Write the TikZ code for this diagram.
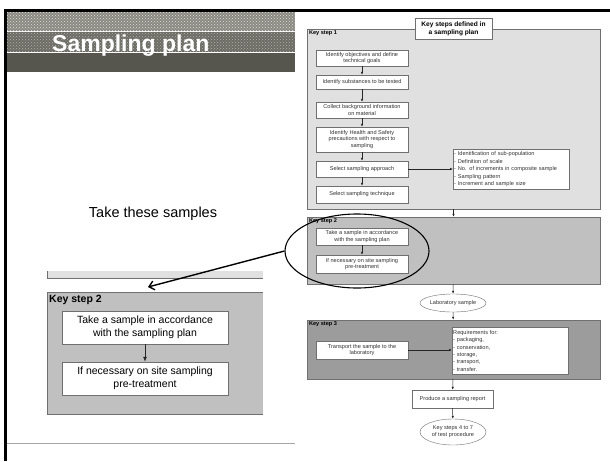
\documentclass[tikz,border=0pt]{standalone}
\usepackage{fontspec}
\setmainfont{Liberation Sans}
\usetikzlibrary{shapes.geometric,arrows.meta,patterns}
\definecolor{bandtop}{HTML}{8A8A82}
\definecolor{bandmid}{HTML}{6C6C64}
\definecolor{bandlow}{HTML}{56564E}
\definecolor{ksone}{HTML}{E0E0E0}
\definecolor{kstwo}{HTML}{C0C0C0}
\definecolor{ksthree}{HTML}{9C9C9C}
\definecolor{edgegray}{HTML}{707070}
\begin{document}
\begin{tikzpicture}[x=1pt,y=-1pt,
  stepbox/.style={draw=edgegray,fill=white,align=center,inner sep=0.5pt,
    font=\fontsize{5.6}{6.8}\selectfont,text=black!80,minimum width=92pt},
  listbox/.style={draw=edgegray,fill=white,align=left,inner sep=1pt,anchor=north west,
    font=\fontsize{5.6}{7.4}\selectfont,text=black!80,text width=114pt},
  panel/.style={draw=edgegray,minimum width=293pt,inner sep=0pt},
  keylab/.style={anchor=north west,inner sep=2pt,font=\fontsize{5.6}{6}\selectfont\bfseries},
  oval/.style={ellipse,draw=edgegray,fill=white,inner sep=0pt,align=center,
    font=\fontsize{5.6}{6.8}\selectfont,text=black!80},
  link/.style={-{Latex[length=3pt,width=2.4pt]},black!85,line width=0.5pt},
  bigbox/.style={draw=edgegray,fill=white,align=center,inner sep=1pt,
    font=\fontsize{10.5}{12.5}\selectfont,minimum width=166pt,minimum height=33pt}]
\useasboundingbox (0,0) rectangle (610,461);
\fill[white] (0,0) rectangle (610,461);
\fill[bandtop] (7,12) rectangle (295,30.5);
\fill[bandmid] (7,31.8) rectangle (295,51.5);
\fill[bandlow] (7,52.8) rectangle (295,72);
\fill[pattern=crosshatch dots,pattern color=white!75!gray] (7,12) rectangle (295,30.5);
\fill[pattern=crosshatch dots,pattern color=gray!60] (7,31.8) rectangle (295,51.5);
\node[anchor=base west,inner sep=0pt,text=white,font=\fontsize{23}{25}\selectfont\bfseries] (title) at (52,51) {Sampling plan};
\draw[line width=2.5pt] (5.5,461) -- (5.5,10.5) -- (610,10.5);
\draw[gray!70,line width=0.8pt] (7,443) -- (295,443);
\node[font=\fontsize{14.5}{16}\selectfont] (take) at (153,214) {Take these samples};
\node[panel,fill=ksone,minimum height=180pt] (ks1) at (453.5,119) {};
\node[draw=edgegray,fill=white,align=center,inner sep=1pt,minimum width=77pt,minimum height=21pt,
  font=\fontsize{6.6}{8}\selectfont\bfseries] (head) at (453.5,28.5) {Key steps defined in\\a sampling plan};
\node[keylab] (ks1lab) at (ks1.north west) {Key step 1};
\node[stepbox,minimum height=16pt] (objectives) at (362,58) {Identify objectives and define\\technical goals};
\node[stepbox,minimum height=14pt] (substances) at (362,82) {Identify substances to be tested};
\node[stepbox,minimum height=16pt] (background) at (362,110) {Collect background information\\on material};
\node[stepbox,minimum height=25pt] (safety) at (362,139.5) {Identify Health and Safety\\precautions with respect to\\sampling};
\node[stepbox,minimum height=16pt] (approach) at (362,169) {Select sampling approach};
\node[stepbox,minimum height=17pt] (technique) at (362,194.5) {Select sampling technique};
\node[listbox,minimum height=40pt] (approachlist) at (453,149) {- Identification of sub-population\\- Definition of scale\\- No. of increments in composite sample\\- Sampling pattern\\- Increment and sample size};
\draw[link] (objectives) -- (substances);
\draw[link] (substances) -- (background);
\draw[link] (background) -- (safety);
\draw[link] (safety) -- (approach);
\draw[link] (approach) -- (technique);
\draw[link] (approach.east) -- (approach.east -| approachlist.west);
\node[panel,fill=kstwo,minimum height=67pt] (ks2) at (453.5,250.5) {};
\node[keylab] (ks2lab) at (ks2.north west) {Key step 2};
\node[stepbox,minimum height=17pt] (takesample) at (362,236.5) {Take a sample in accordance\\with the sampling plan};
\node[stepbox,minimum height=18pt] (pretreat) at (362,264) {If necessary on site sampling\\pre-treatment};
\draw[link] (takesample) -- (pretreat);
\draw[link] (ks1) -- (ks2);
\node[oval,minimum width=66pt,minimum height=18pt] (labsample) at (453,303) {Laboratory sample};
\draw[link] (ks2) -- (labsample);
\node[panel,fill=ksthree,minimum height=59pt] (ks3) at (453.5,349.5) {};
\node[keylab] (ks3lab) at (ks3.north west) {Key step 3};
\draw[link] (labsample) -- (ks3);
\node[stepbox,minimum height=18pt] (transport) at (362,350) {Transport the sample to the\\laboratory};
\node[listbox,minimum height=47pt] (require) at (452,327) {Requirements for:\\- packaging,\\- conservation,\\- storage,\\- transport,\\- transfer.};
\draw[link] (transport.east) -- (transport.east -| require.west);
\node[stepbox,minimum width=81pt,minimum height=18pt] (report) at (452.5,399) {Produce a sampling report};
\draw[link] (ks3) -- (report);
\node[oval,minimum width=66pt,minimum height=26pt] (nextsteps) at (453,432) {Key steps 4 to 7\\of test procedure};
\draw[link] (report) -- (nextsteps);
\node[ellipse,draw,line width=1.1pt,minimum width=144pt,minimum height=74pt] (ring) at (357,251) {};
\fill[ksone] (47,271) rectangle (263,278);
\draw[edgegray,line width=0.7pt] (47,271) -- (47,278) -- (263,278);
\fill[kstwo] (47,292) rectangle (263,414);
\draw[edgegray,line width=0.7pt] (263,292) -- (47,292) -- (47,414) -- (263,414);
\node[anchor=north west,inner sep=1pt,font=\fontsize{10.5}{12}\selectfont\bfseries] (bigkey) at (48,294) {Key step 2};
\node[bigbox] (bigtake) at (145,327.5) {Take a sample in accordance\\with the sampling plan};
\node[bigbox] (bigpre) at (145,378.5) {If necessary on site sampling\\pre-treatment};
\draw[link,-{Latex[length=5pt,width=4pt]},line width=0.8pt] (bigtake) -- (bigpre);
\coordinate (zoomend) at (148,287);
\draw[line width=1.4pt,-{Straight Barb[length=5pt,width=9pt]}] (ring.west) -- (zoomend);
\end{tikzpicture}
\end{document}
